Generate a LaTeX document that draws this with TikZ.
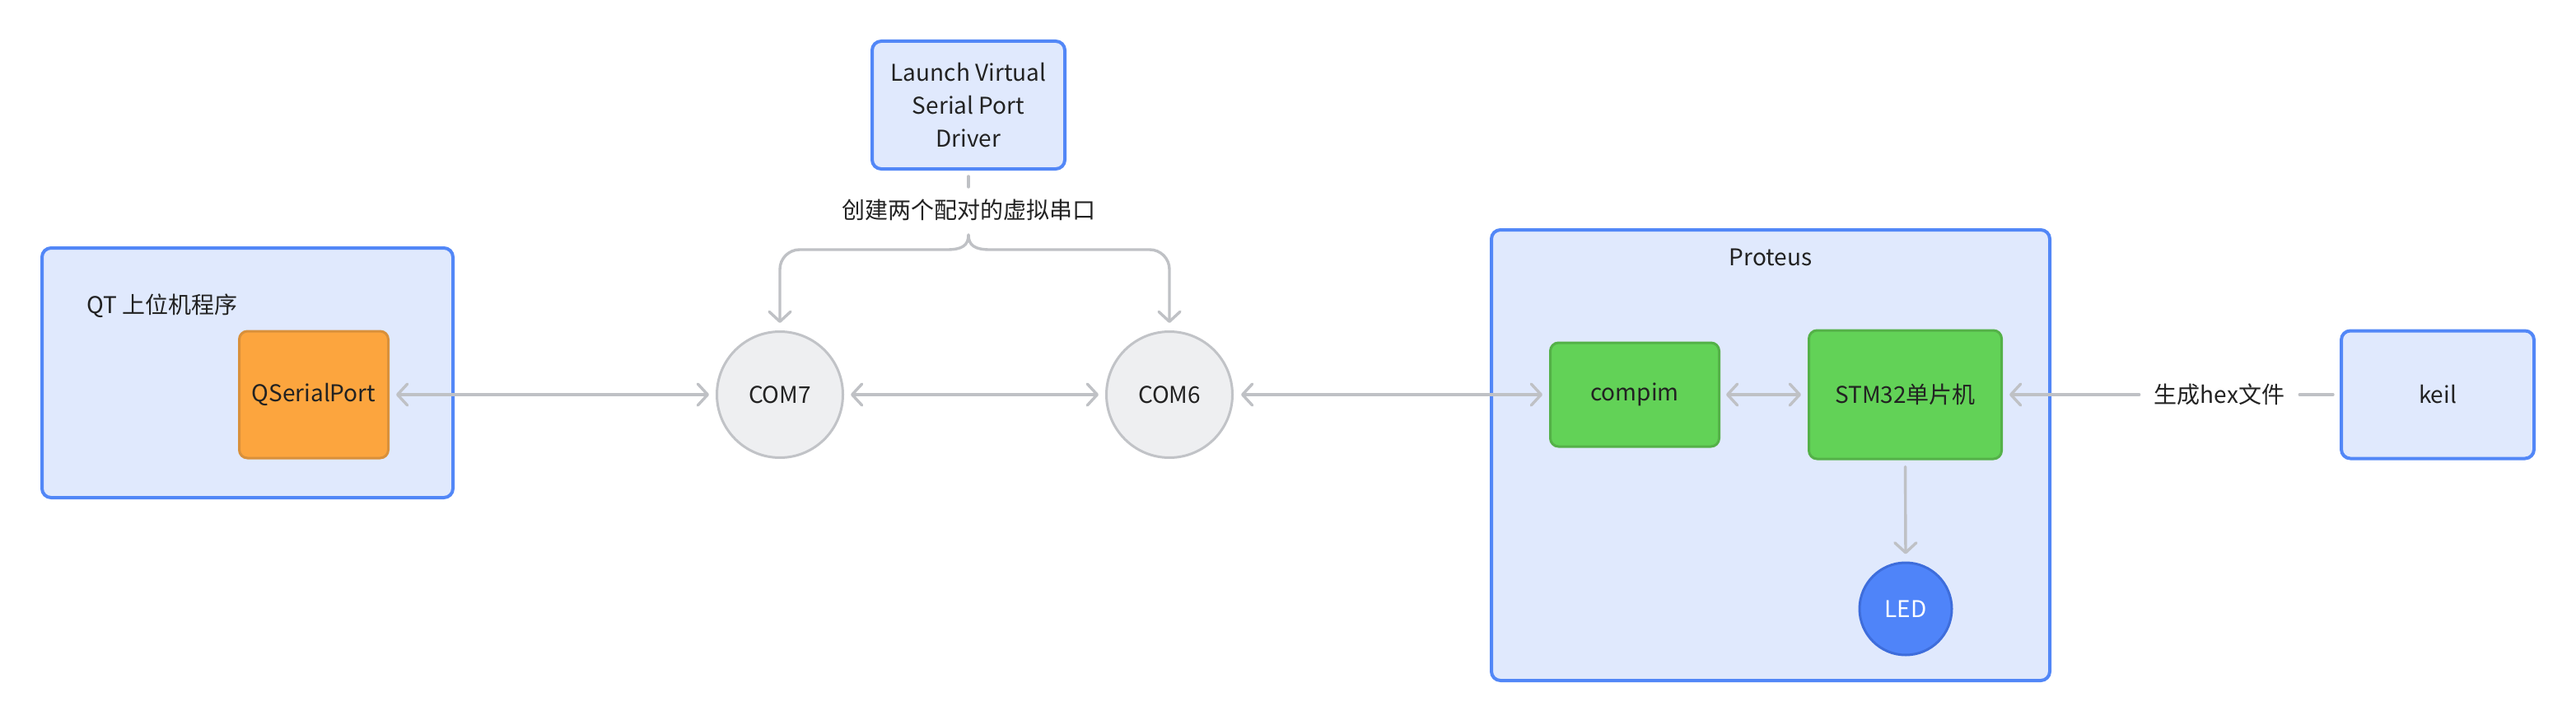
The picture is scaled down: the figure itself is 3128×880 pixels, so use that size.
\documentclass[tikz,border=0pt]{standalone}
\usepackage{fontspec}
\setmainfont{Noto Sans CJK SC}
\usetikzlibrary{arrows.meta}
\definecolor{bblue}{RGB}{82,135,247}
\definecolor{bfill}{RGB}{224,233,253}
\definecolor{ofill}{RGB}{252,165,62}
\definecolor{oline}{RGB}{217,144,58}
\definecolor{gfill}{RGB}{98,210,87}
\definecolor{gline}{RGB}{84,177,72}
\definecolor{cfill}{RGB}{238,239,241}
\definecolor{cline}{RGB}{193,195,199}
\definecolor{conncol}{RGB}{191,193,197}
\definecolor{ledfill}{RGB}{79,132,249}
\definecolor{ledline}{RGB}{62,109,219}
\definecolor{txt}{RGB}{34,34,34}
\begin{document}
\begin{tikzpicture}[x=1pt,y=-1pt,
  every node/.style={font=\fontsize{28pt}{40pt}\selectfont, text=txt, inner sep=0pt},
  group/.style={draw=bblue, fill=bfill, line width=4pt, rounded corners=11pt},
  bluebox/.style={draw=bblue, fill=bfill, line width=4pt, rounded corners=11pt, align=center},
  orangebox/.style={draw=oline, fill=ofill, line width=3pt, rounded corners=10pt},
  greenbox/.style={draw=gline, fill=gfill, line width=3pt, rounded corners=10pt},
  portcircle/.style={circle, draw=cline, fill=cfill, line width=3pt, minimum size=153pt},
  ledcircle/.style={circle, draw=ledline, fill=ledfill, line width=3pt, minimum size=112pt, text=white},
  conn/.style={draw=conncol, line width=3.4pt, line cap=round, line join=round},
  tip/.tip={Straight Barb[length=12pt,width=26pt,line cap=round,line join=round]},
  elabel/.style={fill=white, inner xsep=18pt, inner ysep=4pt}
]
\useasboundingbox (0,0) rectangle (3128,880);
\fill[white] (0,0) rectangle (3128,880);

% groups
\node[group, minimum width=499pt, minimum height=303pt] (qt) at (300.5,452.5) {};
\node[anchor=west] (qtlabel) at (105,371) {QT 上位机程序};
\node[group, minimum width=678pt, minimum height=547pt] (proteus) at (2150,552.5) {};
\node (proteuslabel) at (2150,312) {Proteus};

% nodes
\node[orangebox, minimum width=181pt, minimum height=154pt] (qsp) at (381,479) {QSerialPort};
\node[portcircle] (com7) at (947,479) {COM7};
\node[portcircle] (com6) at (1420,479) {COM6};
\node[bluebox, minimum width=234pt, minimum height=155pt] (launch) at (1176,127.5) {Launch Virtual\\Serial Port\\Driver};
\node[greenbox, minimum width=205pt, minimum height=126pt] (compim) at (1985,479) {compim};
\node[greenbox, minimum width=234pt, minimum height=156pt] (stm) at (2313.5,479) {STM32单片机};
\node[ledcircle] (led) at (2314,739) {LED};
\node[bluebox, minimum width=234pt, minimum height=155pt] (keil) at (2960,479) {keil};

% edge labels
\node[elabel] (hexlbl) at (2695,479) {生成hex文件};
\node (pairlbl) at (1176,255) {创建两个配对的虚拟串口};

% coordinates for the branching edge
\coordinate (tickend) at (1176,227);
\coordinate (peak) at (1176,285);
\coordinate (brl) at (1150,303);
\coordinate (brr) at (1202,303);
\coordinate (hy) at (0,303);

% connectors
\draw[conn, {tip}-{tip}, shorten <=8pt, shorten >=8pt] (qsp.east) -- (com7.west);
\draw[conn, {tip}-{tip}, shorten <=8pt, shorten >=8pt] (com7.east) -- (com6.west);
\draw[conn, {tip}-{tip}, shorten <=9pt, shorten >=8pt] (com6.east) -- (compim.west);
\draw[conn, {tip}-{tip}, shorten <=7pt, shorten >=8pt] (compim.east) -- (stm.west);
\draw[conn, shorten <=8pt] (keil.west) -- (hexlbl.east);
\draw[conn, -{tip}, shorten >=8pt] (hexlbl.west) -- (stm.east);
\draw[conn, -{tip}, shorten <=8pt, shorten >=9pt] (stm.south) -- (led.north);

\draw[conn, shorten <=7pt] (launch.south) -- (tickend);
\draw[conn, -{tip}, shorten >=9pt] (peak) .. controls (1176,298) and (1168,303) .. (brl)
  [rounded corners=24pt] -- (com7 |- hy) -- (com7.north);
\draw[conn, -{tip}, shorten >=9pt] (peak) .. controls (1176,298) and (1184,303) .. (brr)
  [rounded corners=24pt] -- (com6 |- hy) -- (com6.north);
\end{tikzpicture}
\end{document}
